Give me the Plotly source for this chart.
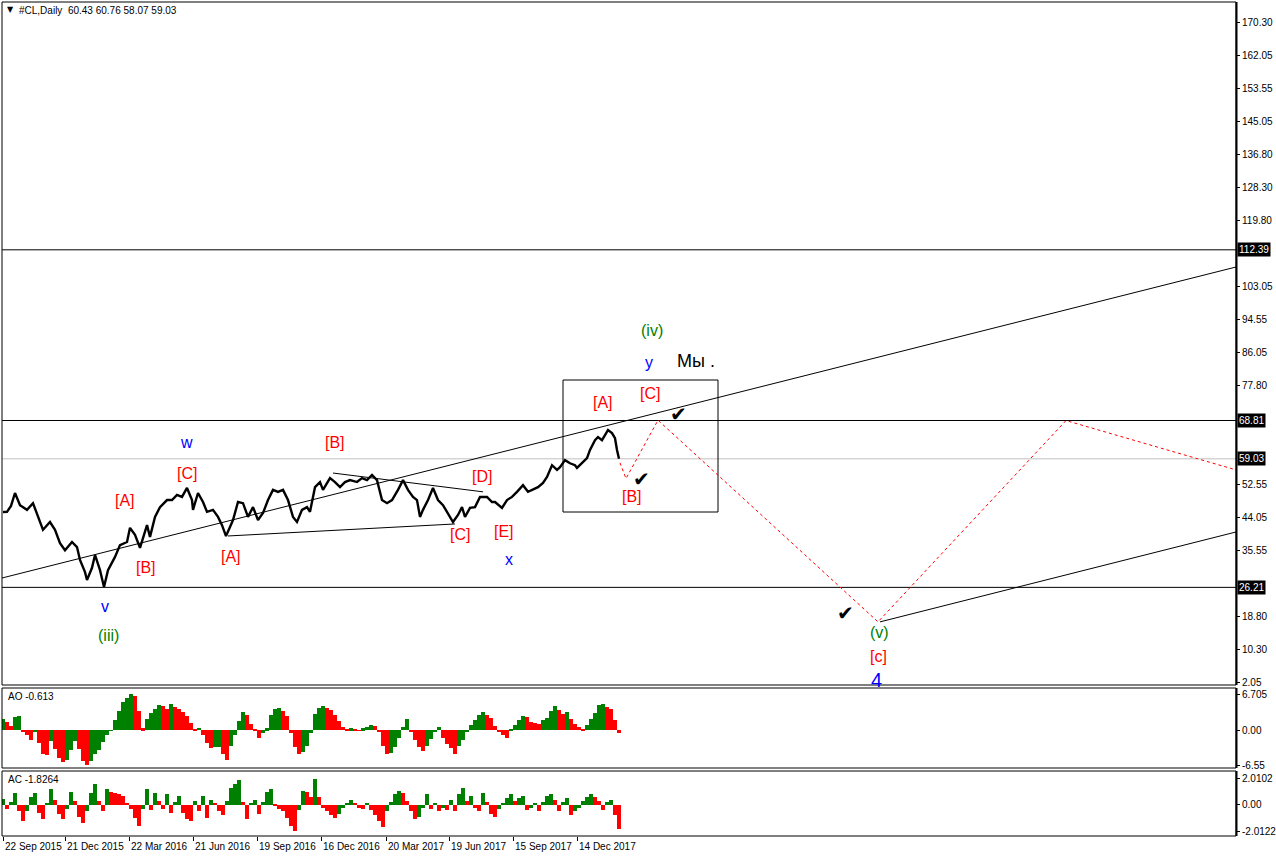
import plotly.graph_objects as go

W, H = 1276, 858

# ---------------- data ----------------
header_text = "#CL,Daily  60.43 60.76 58.07 59.03"
date_labels = ["22 Sep 2015", "21 Dec 2015", "22 Mar 2016", "21 Jun 2016", "19 Sep 2016",
               "16 Dec 2016", "20 Mar 2017", "19 Jun 2017", "15 Sep 2017", "14 Dec 2017"]
date_bars = [0, 62, 126, 190, 254, 318, 383, 446, 510, 574]

price_bars = [0, 4, 8, 12, 17, 24, 30, 35, 40, 47,
              52, 57, 62, 69, 74, 77, 82, 84, 89, 92,
              97, 101, 105, 112, 117, 124, 127, 132, 137, 144,
              147, 152, 157, 164, 169, 174, 179, 184, 189, 190,
              195, 200, 204, 210, 215, 219, 223, 227, 230, 235,
              240, 245, 250, 255, 260, 265, 270, 275, 280, 285,
              290, 294, 299, 304, 307, 312, 317, 320, 327, 332,
              337, 342, 347, 354, 359, 364, 369, 374, 377, 379,
              384, 389, 395, 400, 405, 410, 414, 417, 420, 425,
              430, 435, 440, 445, 450, 455, 459, 462, 467, 472,
              477, 484, 489, 492, 499, 504, 509, 514, 520, 525,
              530, 535, 540, 544, 549, 554, 557, 562, 567, 572,
              574, 579, 584, 587, 592, 595, 599, 602, 605, 609,
              612, 614, 616]
price_close = [45.45, 45.5, 47.0, 50.3, 47.2, 46.0, 47.7, 44.2, 40.9, 42.9,
               40.9, 37.5, 35.7, 37.8, 36.5, 33.2, 30.1, 28.1, 31.2, 34.5,
               30.6, 26.3, 30.6, 34.0, 37.0, 37.8, 41.4, 39.6, 36.3, 42.1,
               39.1, 44.2, 46.7, 48.5, 48.5, 49.8, 49.3, 51.6, 48.5, 46.0,
               50.3, 48.0, 45.5, 46.0, 44.2, 42.1, 39.3, 41.6, 43.4, 48.0,
               47.7, 44.2, 46.7, 43.4, 45.2, 48.5, 51.1, 50.6, 51.1, 48.5,
               44.2, 42.9, 46.0, 46.7, 45.5, 51.8, 53.1, 51.1, 54.1, 53.1,
               51.8, 53.1, 53.6, 53.1, 54.1, 53.6, 54.9, 53.6, 50.3, 48.5,
               47.7, 48.5, 51.1, 53.6, 51.1, 49.3, 48.5, 44.2, 46.0, 48.5,
               51.6, 48.5, 47.2, 45.2, 42.9, 44.7, 46.7, 44.2, 46.5, 46.7,
               49.3, 49.3, 48.0, 48.0, 46.5, 48.5, 49.3, 50.6, 52.3, 50.6,
               51.1, 51.8, 52.9, 54.4, 57.4, 56.2, 56.9, 58.7, 57.9, 57.4,
               56.7, 58.0, 59.2, 61.3, 63.8, 64.6, 63.8, 65.1, 66.4, 65.6,
               64.3, 61.3, 59.03]

price_ticks = [170.30, 162.05, 153.55, 145.05, 136.80, 128.30, 119.80, 103.05,
               94.55, 86.05, 77.80, 52.55, 44.05, 35.55, 18.80, 10.30, 2.05]
level_prices = [112.39, 68.81, 26.21]
current_price = 59.03

# drawn objects (bar index, price)
channel_bars = [-1, 1233]
channel_prices = [28.6, 108.0]
lower_line_bars = [877, 1233]
lower_line_prices = [17.4, 40.35]
tri_low_bars = [225, 452]
tri_low_prices = [39.33, 42.4]
tri_up_bars = [330, 480]
tri_up_prices = [55.4, 50.6]
box_bars = [560, 715]
box_prices = [45.45, 79.15]
path_bars = [617, 623, 655, 875, 1063, 1233]
path_prices = [58.0, 54.0, 68.9, 17.4, 68.8, 56.2]

# wave labels: text, colour, size, bar, price
wave_labels = [
    ("(iii)", "#008000", 16, 105, 13.8),
    ("v", "#0000FF", 16, 102, 21.4),
    ("[A]", "#FF0000", 16, 122, 48.3),
    ("[B]", "#FF0000", 16, 143, 31.2),
    ("[C]", "#FF0000", 16, 184, 55.4),
    ("w", "#0000FF", 16, 183, 63.1),
    ("[A]", "#FF0000", 16, 228, 34.2),
    ("[B]", "#FF0000", 16, 332, 63.3),
    ("[C]", "#FF0000", 16, 457, 39.6),
    ("[D]", "#FF0000", 16, 479, 54.4),
    ("[E]", "#FF0000", 16, 501, 40.6),
    ("x", "#0000FF", 16, 506, 33.2),
    ("[A]", "#FF0000", 16, 600, 73.3),
    ("[B]", "#FF0000", 16, 629, 49.3),
    ("[C]", "#FF0000", 16, 647, 75.6),
    ("y", "#0000FF", 16, 646, 83.5),
    ("(iv)", "#008000", 16, 649, 91.9),
    ("Мы .", "#000000", 18, 693, 84.0),
    ("(v)", "#008000", 16, 876, 14.8),
    ("[c]", "#FF0000", 16, 875, 8.5),
    ("4", "#0000FF", 20, 873, 2.6),
]
check_bars = [638, 675, 842]
check_prices = [53.9, 70.5, 19.7]

ao_values = [2.1, 1.5, 0.8, 2.4, 2.6, -0.2, -0.9, -1.8, -0.2, -2.5,
             -4.5, -4.6, -2.0, -3.5, -5.2, -6.0, -5.6, -3.8, -2.0, -3.5,
             -5.8, -6.55, -5.8, -4.5, -3.7, -2.2, -1.0, -0.1, 1.8, 3.5,
             5.2, 5.9, 6.705, 6.3, 3.5, 0.3, 2.1, 3.2, 3.9, 4.6,
             4.5, 4.0, 4.8, 4.3, 3.9, 3.3, 2.6, 1.4, 0.1, 0.4,
             -1.0, -2.5, -3.3, -3.2, -3.1, -4.5, -5.6, -3.0, -1.0, 1.6,
             3.3, 2.8, 1.2, 0.2, -1.5, -0.6, 0.3, 2.8, 4.0, 4.1,
             3.5, 2.7, -0.5, -3.2, -4.4, -4.1, -3.0, -0.6, 3.0, 4.2,
             4.5, 4.2, 3.8, 2.8, 1.6, 0.6, 0.1, 0.3, 0.2, -0.1,
             0.3, 0.6, 0.9, 0.7, -0.2, -3.0, -4.5, -4.3, -3.2, -1.5,
             0.5, 2.1, -0.3, -1.8, -3.1, -3.9, -3.0, -1.6, -0.2, 0.6,
             -1.4, -2.6, -3.4, -4.4, -3.0, -1.8, -0.2, 0.9, 1.8, 2.8,
             3.3, 2.8, 2.2, 0.8, -0.2, -1.0, -1.4, 0.2, 1.0, 1.9,
             2.6, 2.4, 1.5, 1.3, 1.2, 1.8, 2.3, 3.6, 4.5, 3.7,
             2.9, 3.3, 2.0, 1.1, 0.5, 0.1, 1.0, 2.0, 3.2, 4.6,
             4.9, 4.3, 3.9, 1.8, -0.613]
ac_values = [0.45, -0.3, 0.2, 0.9, -0.5, -1.2, -0.5, 0.6, 0.9, -0.6,
             -1.1, 0.1, 1.2, 0.4, -0.7, -1.1, -0.3, 1.0, 0.3, -0.9,
             -1.4, -0.5, 0.9, 1.6, 0.3, -0.5, 1.2, 1.0, 0.9, 0.8,
             0.7, 0.1, -0.3, -1.0, -1.6, -0.3, 1.2, -0.4, 0.9, 0.3,
             -0.3, 0.8, -0.6, 0.2, 0.7, -0.6, -1.1, -1.2, 0.3, -0.5,
             0.7, -1.0, 0.4, 0.1, -0.5, -0.8, 0.3, 1.3, 1.6, 1.9,
             0.2, -1.1, 0.1, 0.4, -0.7, 0.2, 1.0, 1.2, -0.1, -0.3,
             -0.5, -1.0, -1.6, -2.0122, -0.4, 1.1, 1.0, 0.6, 2.0102, 0.6,
             -0.2, -0.5, -0.8, -1.0, -0.7, -0.2, 0.1, 0.35, 0.1, -0.2,
             -0.3, 0.1, -0.4, -0.8, -1.2, -1.7, -0.5, 0.2, 0.8, 1.1,
             0.9, 0.3, -0.5, -1.1, -0.9, -0.2, 0.8, -0.3, 0.1, -0.5,
             -0.2, -0.4, 0.4, -0.5, 0.8, 1.3, 0.3, 0.7, -0.2, -0.5,
             0.9, 0.2, -0.7, -0.9, -0.3, 0.1, 0.5, 0.8, 0.3, 0.5,
             0.7, -0.4, -0.2, 0.1, -0.45, 0.2, 0.7, 0.8, 0.4, -0.5,
             0.2, 0.5, -0.8, -0.5, -0.2, 0.3, 0.6, 0.8, 0.6, 0.3,
             -0.4, 0.2, 0.35, -0.8, -1.8264]
ao_ticks = [6.705, 0.0, -6.55]
ao_ticktext = ["6.705", "0.00", "-6.55"]
ac_ticks = [2.0102, 0.0, -2.0122]
ac_ticktext = ["2.0102", "0.00", "-2.0122"]
ao_name = "AO -0.613"
ac_name = "AC -1.8264"

# ---------------- layout helpers ----------------
FONT = "Liberation Sans, Arial, sans-serif"
px = lambda x: x / W
py = lambda y: 1 - y / H

X_LEFT, X_RIGHT = 2, 1236
MAIN = (2, 685)
AOP = (688, 768)
ACP = (771, 836)

assert len(price_bars) == len(price_close)
osc_step = 4
osc_bars = list(range(0, osc_step * len(ao_values), osc_step))
assert len(ao_values) == len(ac_values)


def osc_colors(vals):
    cols = []
    for i, v in enumerate(vals):
        if i == 0 or v > vals[i - 1]:
            cols.append("#008000")
        else:
            cols.append("#FF0000")
    return cols


fig = go.Figure()

for lv in level_prices:
    fig.add_trace(go.Scatter(x=[-1, 1233], y=[lv, lv], mode="lines",
                             line=dict(color="black", width=1), hoverinfo="skip"))
fig.add_trace(go.Scatter(x=[-1, 1233], y=[current_price, current_price], mode="lines",
                         line=dict(color="#C0C0C0", width=1), hoverinfo="skip"))

for bx, by in [(channel_bars, channel_prices), (lower_line_bars, lower_line_prices),
               (tri_low_bars, tri_low_prices), (tri_up_bars, tri_up_prices)]:
    fig.add_trace(go.Scatter(x=bx, y=by, mode="lines",
                             line=dict(color="black", width=1), hoverinfo="skip"))

fig.add_trace(go.Scatter(x=[box_bars[0], box_bars[1], box_bars[1], box_bars[0], box_bars[0]],
                         y=[box_prices[0], box_prices[0], box_prices[1], box_prices[1], box_prices[0]],
                         mode="lines", line=dict(color="black", width=1), hoverinfo="skip"))

fig.add_trace(go.Scatter(x=path_bars, y=path_prices, mode="lines",
                         line=dict(color="#FF0000", width=1, dash="dot"), hoverinfo="skip"))

fig.add_trace(go.Scatter(x=price_bars, y=price_close, mode="lines",
                         line=dict(color="black", width=2.4), hoverinfo="skip"))

fig.add_trace(go.Bar(x=osc_bars, y=ao_values, width=osc_step, yaxis="y2",
                     marker=dict(color=osc_colors(ao_values), line=dict(width=0))))
fig.add_trace(go.Bar(x=osc_bars, y=ac_values, width=osc_step, yaxis="y3",
                     marker=dict(color=osc_colors(ac_values), line=dict(width=0))))

annotations = []
for txt, col, sz, bx, bp in wave_labels:
    annotations.append(dict(x=bx, y=bp, xref="x", yref="y", text=txt, showarrow=False,
                            xanchor="center", yanchor="middle",
                            font=dict(color=col, size=sz, family=FONT)))
for bx, bp in zip(check_bars, check_prices):
    annotations.append(dict(x=bx, y=bp, xref="x", yref="y", text="✔", showarrow=False,
                            xanchor="center", yanchor="middle",
                            font=dict(color="black", size=20, family="DejaVu Sans")))

for lv in level_prices + [current_price]:
    annotations.append(dict(x=px(X_RIGHT + 1), y=lv, xref="paper", yref="y",
                            xanchor="left", yanchor="middle",
                            text=f"{lv:.2f}", showarrow=False, bgcolor="black", borderpad=1,
                            font=dict(color="white", size=10, family=FONT)))

annotations.append(dict(x=px(5), y=py(9), xref="paper", yref="paper", xanchor="left", yanchor="middle",
                        text="▼", showarrow=False, font=dict(size=8, color="black", family="DejaVu Sans")))
annotations.append(dict(x=px(17), y=py(10), xref="paper", yref="paper", xanchor="left", yanchor="middle",
                        text=header_text, showarrow=False, font=dict(size=10, color="black", family=FONT)))
annotations.append(dict(x=px(6), y=py(696), xref="paper", yref="paper", xanchor="left", yanchor="middle",
                        text=ao_name, showarrow=False, font=dict(size=10, color="black", family=FONT)))
annotations.append(dict(x=px(6), y=py(779), xref="paper", yref="paper", xanchor="left", yanchor="middle",
                        text=ac_name, showarrow=False, font=dict(size=10, color="black", family=FONT)))

for lab, b in zip(date_labels, date_bars):
    annotations.append(dict(x=b, y=py(846), xref="x", yref="paper", xanchor="left", yanchor="middle",
                            text=lab, showarrow=False, font=dict(size=10, color="black", family=FONT)))

shapes = []
for top, bot in [MAIN, AOP, ACP]:
    shapes.append(dict(type="rect", xref="paper", yref="paper", x0=px(X_LEFT), x1=px(X_RIGHT),
                       y0=py(bot), y1=py(top), line=dict(color="black", width=1)))
    shapes.append(dict(type="line", xref="paper", yref="paper", x0=px(X_RIGHT + 0.5), x1=px(X_RIGHT + 0.5),
                       y0=py(bot), y1=py(top), line=dict(color="black", width=2)))

axis_font = dict(size=10, color="black", family=FONT)
fig.update_layout(
    width=W, height=H, margin=dict(l=0, r=0, t=0, b=0, autoexpand=False),
    plot_bgcolor="white", paper_bgcolor="white", showlegend=False,
    bargap=0, barmode="overlay", hovermode=False,
    xaxis=dict(domain=[px(X_LEFT), px(X_RIGHT)], range=[-1, 1233], anchor="y3",
               showgrid=False, zeroline=False, showline=False, showticklabels=False,
               ticks="outside", ticklen=4, tickcolor="black", tickvals=date_bars),
    yaxis=dict(domain=[py(MAIN[1]), py(MAIN[0])], range=[1.284, 175.66], side="right", anchor="x",
               showgrid=False, zeroline=False, showline=False,
               tickvals=price_ticks, ticktext=[f"{v:.2f}" for v in price_ticks],
               ticks="outside", ticklen=3, tickcolor="black", tickfont=axis_font),
    yaxis2=dict(domain=[py(AOP[1]), py(AOP[0])], range=[-7.1, 7.85], side="right", anchor="x",
                showgrid=False, zeroline=False, showline=False,
                tickvals=ao_ticks, ticktext=ao_ticktext,
                ticks="outside", ticklen=3, tickcolor="black", tickfont=axis_font),
    yaxis3=dict(domain=[py(ACP[1]), py(ACP[0])], range=[-2.38, 2.6], side="right", anchor="x",
                showgrid=False, zeroline=False, showline=False,
                tickvals=ac_ticks, ticktext=ac_ticktext,
                ticks="outside", ticklen=3, tickcolor="black", tickfont=axis_font),
    annotations=annotations, shapes=shapes,
)

fig.write_html("out.html", config={"displayModeBar": False},
               post_script="document.body.style.margin='0';document.body.style.overflow='hidden';")
